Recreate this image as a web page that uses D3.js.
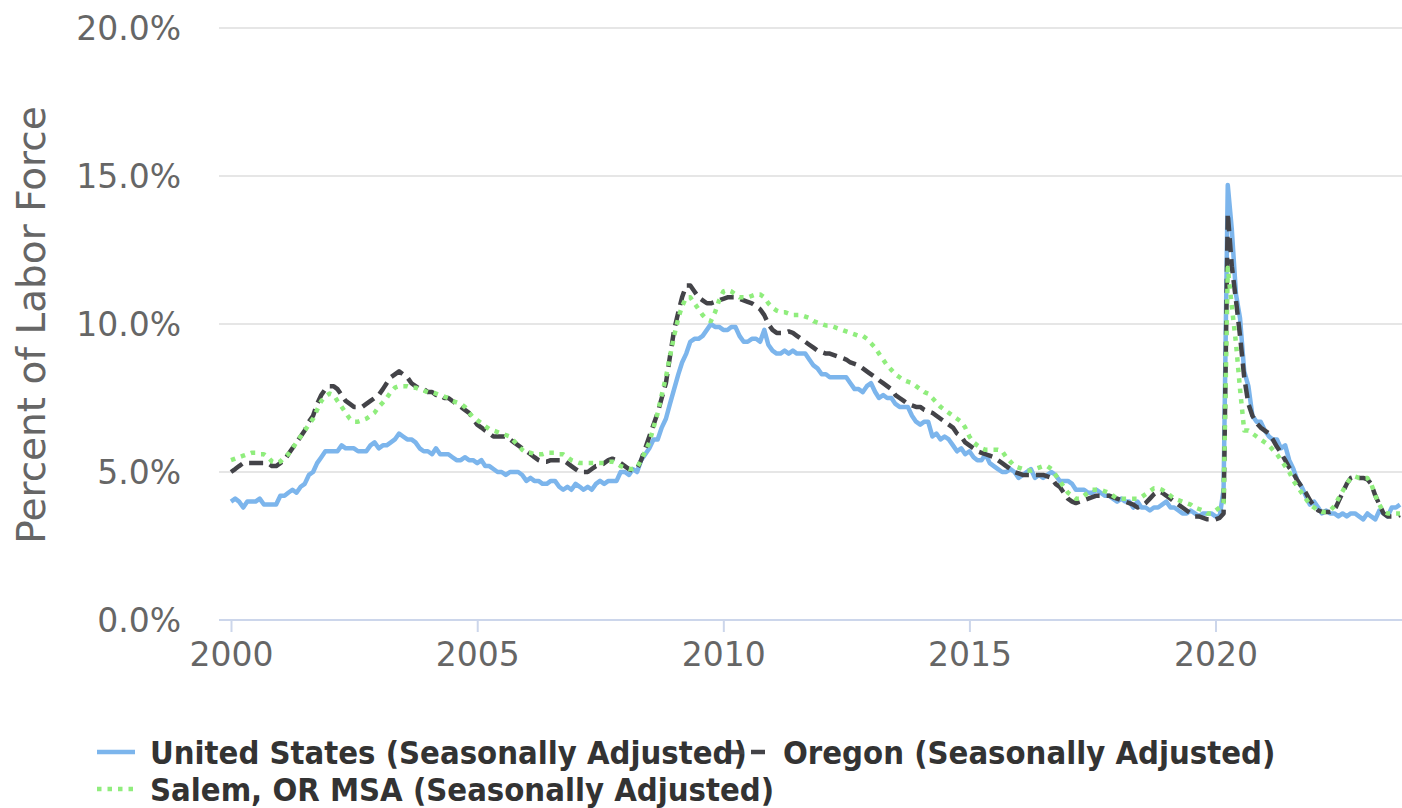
<!DOCTYPE html>
<html>
<head>
<meta charset="utf-8">
<script src="https://cdn.jsdelivr.net/npm/d3@7"></script>
<style>
  body { margin: 0; background: #fff; }
  svg { display: block; font-family: "DejaVu Sans", sans-serif; }
</style>
</head>
<body>
<div id="chart"></div>
<script>
var width = 1402;
var height = 808;

// monthly unemployment rates, Jan 2000 onwards (one row per year)
var usRate = [
    4.0, 4.1, 4.0, 3.8, 4.0, 4.0, 4.0, 4.1, 3.9, 3.9, 3.9, 3.9,
    4.2, 4.2, 4.3, 4.4, 4.3, 4.5, 4.6, 4.9, 5.0, 5.3, 5.5, 5.7,
    5.7, 5.7, 5.7, 5.9, 5.8, 5.8, 5.8, 5.7, 5.7, 5.7, 5.9, 6.0,
    5.8, 5.9, 5.9, 6.0, 6.1, 6.3, 6.2, 6.1, 6.1, 6.0, 5.8, 5.7,
    5.7, 5.6, 5.8, 5.6, 5.6, 5.6, 5.5, 5.4, 5.4, 5.5, 5.4, 5.4,
    5.3, 5.4, 5.2, 5.2, 5.1, 5.0, 5.0, 4.9, 5.0, 5.0, 5.0, 4.9,
    4.7, 4.8, 4.7, 4.7, 4.6, 4.6, 4.7, 4.7, 4.5, 4.4, 4.5, 4.4,
    4.6, 4.5, 4.4, 4.5, 4.4, 4.6, 4.7, 4.6, 4.7, 4.7, 4.7, 5.0,
    5.0, 4.9, 5.1, 5.0, 5.4, 5.6, 5.8, 6.1, 6.1, 6.5, 6.8, 7.3,
    7.8, 8.3, 8.7, 9.0, 9.4, 9.5, 9.5, 9.6, 9.8, 10.0, 9.9, 9.9,
    9.8, 9.8, 9.9, 9.9, 9.6, 9.4, 9.4, 9.5, 9.5, 9.4, 9.8, 9.3,
    9.1, 9.0, 9.0, 9.1, 9.0, 9.1, 9.0, 9.0, 9.0, 8.8, 8.6, 8.5,
    8.3, 8.3, 8.2, 8.2, 8.2, 8.2, 8.2, 8.0, 7.8, 7.8, 7.7, 7.9,
    8.0, 7.7, 7.5, 7.6, 7.5, 7.5, 7.3, 7.2, 7.2, 7.2, 6.9, 6.7,
    6.6, 6.7, 6.7, 6.2, 6.3, 6.1, 6.2, 6.1, 5.9, 5.7, 5.8, 5.6,
    5.7, 5.5, 5.4, 5.4, 5.6, 5.3, 5.2, 5.1, 5.0, 5.0, 5.1, 5.0,
    4.8, 4.9, 5.0, 5.1, 4.8, 4.9, 4.8, 4.9, 5.0, 4.9, 4.7, 4.7,
    4.7, 4.6, 4.4, 4.4, 4.4, 4.3, 4.3, 4.4, 4.3, 4.2, 4.2, 4.1,
    4.0, 4.1, 4.0, 4.0, 3.8, 4.0, 3.8, 3.8, 3.7, 3.8, 3.8, 3.9,
    4.0, 3.8, 3.8, 3.7, 3.6, 3.6, 3.7, 3.6, 3.5, 3.6, 3.6, 3.6,
    3.5, 3.5, 4.4, 14.7, 13.2, 11.0, 10.2, 8.4, 7.9, 6.9, 6.7, 6.7,
    6.4, 6.2, 6.1, 6.1, 5.8, 5.9, 5.4, 5.1, 4.7, 4.5, 4.2, 3.9,
    4.0, 3.8, 3.6, 3.7, 3.6, 3.6, 3.5, 3.6, 3.5, 3.6, 3.6, 3.5,
    3.4, 3.6, 3.5, 3.4, 3.7, 3.6, 3.5, 3.8, 3.8, 3.9
];

var oregonRate = [
    5.0, 5.1, 5.2, 5.3, 5.3, 5.3, 5.3, 5.3, 5.3, 5.3, 5.2, 5.2,
    5.3, 5.4, 5.6, 5.8, 6.0, 6.2, 6.4, 6.7, 6.9, 7.3, 7.6, 7.8,
    7.9, 7.9, 7.8, 7.6, 7.4, 7.3, 7.2, 7.2, 7.2, 7.3, 7.4, 7.5,
    7.6, 7.8, 8.0, 8.2, 8.3, 8.4, 8.3, 8.2, 8.0, 7.9, 7.8, 7.8,
    7.7, 7.7, 7.6, 7.6, 7.5, 7.5, 7.4, 7.3, 7.2, 7.1, 7.0, 6.8,
    6.6, 6.5, 6.4, 6.3, 6.2, 6.2, 6.2, 6.2, 6.1, 6.0, 5.9, 5.8,
    5.7, 5.6, 5.5, 5.4, 5.35, 5.35, 5.4, 5.4, 5.4, 5.4, 5.3, 5.2,
    5.1, 5.0, 5.0, 5.0, 5.1, 5.2, 5.2, 5.3, 5.4, 5.45, 5.4, 5.3,
    5.2, 5.1, 5.05, 5.1, 5.4, 5.8, 6.2, 6.6, 7.0, 7.5, 8.0, 8.9,
    9.8, 10.4, 10.9, 11.3, 11.3, 11.1, 10.9, 10.8, 10.7, 10.7, 10.75, 10.8,
    10.85, 10.9, 10.9, 10.9, 10.85, 10.8, 10.75, 10.7, 10.6, 10.5, 10.3, 10.0,
    9.8, 9.7, 9.7, 9.7, 9.75, 9.7, 9.6, 9.5, 9.4, 9.3, 9.2, 9.1,
    9.05, 9.0, 9.0, 8.95, 8.9, 8.85, 8.8, 8.7, 8.65, 8.6, 8.5, 8.4,
    8.3, 8.2, 8.1, 8.0, 7.9, 7.8, 7.6, 7.5, 7.4, 7.3, 7.25, 7.2,
    7.2, 7.1, 7.05, 7.0, 6.9, 6.8, 6.7, 6.6, 6.5, 6.3, 6.2, 6.0,
    5.9, 5.8, 5.7, 5.65, 5.6, 5.55, 5.5, 5.4, 5.3, 5.2, 5.1, 5.0,
    4.95, 4.9, 4.9, 4.9, 4.9, 4.9, 4.9, 4.85, 4.8, 4.6, 4.5, 4.3,
    4.1, 4.0, 3.95, 4.0, 4.05, 4.1, 4.15, 4.2, 4.2, 4.2, 4.2, 4.15,
    4.1, 4.05, 4.0, 3.95, 3.9, 3.8, 3.85, 3.95, 4.1, 4.25, 4.35, 4.3,
    4.2, 4.1, 4.0, 3.9, 3.8, 3.7, 3.6, 3.5, 3.5, 3.45, 3.4, 3.4,
    3.4, 3.45, 3.6, 13.75, 11.95, 10.8, 9.6, 8.2, 7.3, 6.9, 6.65, 6.5,
    6.4, 6.3, 6.1, 5.85, 5.65, 5.4, 5.15, 4.95, 4.7, 4.5, 4.3, 4.05,
    3.85, 3.7, 3.65, 3.65, 3.65, 3.7, 4.0, 4.3, 4.6, 4.8, 4.85, 4.8,
    4.8, 4.75, 4.6, 4.2, 3.9, 3.6, 3.5, 3.5, 3.5, 3.55
];

var salemRate = [
    5.4, 5.45, 5.5, 5.55, 5.6, 5.65, 5.65, 5.6, 5.6, 5.5, 5.35, 5.3,
    5.35, 5.5, 5.6, 5.8, 6.0, 6.2, 6.4, 6.6, 6.8, 7.1, 7.4, 7.55,
    7.65, 7.6, 7.4, 7.2, 7.0, 6.8, 6.7, 6.7, 6.75, 6.8, 6.9, 7.0,
    7.2, 7.35, 7.5, 7.7, 7.85, 7.9, 7.9, 7.9, 7.85, 7.85, 7.8, 7.75,
    7.7, 7.7, 7.65, 7.6, 7.55, 7.5, 7.4, 7.35, 7.3, 7.2, 7.0, 6.85,
    6.75, 6.65, 6.55, 6.45, 6.4, 6.35, 6.3, 6.25, 6.2, 6.05, 5.9, 5.75,
    5.65, 5.65, 5.6, 5.6, 5.6, 5.65, 5.65, 5.65, 5.6, 5.6, 5.5, 5.4,
    5.35, 5.3, 5.3, 5.3, 5.3, 5.3, 5.3, 5.3, 5.35, 5.35, 5.3, 5.2,
    5.15, 5.1, 5.1, 5.15, 5.4, 5.7, 6.0, 6.5, 7.0, 7.6, 8.2, 8.9,
    9.6, 10.2, 10.6, 10.9, 10.9, 10.7, 10.5, 10.3, 10.15, 10.1, 10.4, 10.8,
    11.1, 11.15, 11.1, 11.0, 10.9, 10.9, 10.9, 10.95, 11.0, 11.0, 10.9, 10.7,
    10.55, 10.45, 10.4, 10.4, 10.35, 10.3, 10.3, 10.3, 10.25, 10.2, 10.1, 10.05,
    10.0, 9.95, 9.95, 9.9, 9.85, 9.8, 9.75, 9.7, 9.65, 9.6, 9.6, 9.5,
    9.35, 9.2, 9.0, 8.8, 8.6, 8.45, 8.3, 8.2, 8.1, 8.05, 8.0, 7.9,
    7.8, 7.7, 7.65, 7.5, 7.35, 7.2, 7.1, 7.0, 6.9, 6.8, 6.7, 6.5,
    6.2, 6.0, 5.9, 5.8, 5.75, 5.75, 5.75, 5.75, 5.7, 5.5, 5.35, 5.2,
    5.15, 5.1, 5.05, 5.05, 5.1, 5.15, 5.2, 5.2, 5.1, 4.9, 4.7, 4.5,
    4.3, 4.2, 4.1, 4.1, 4.2, 4.3, 4.4, 4.4, 4.4, 4.35, 4.3, 4.2,
    4.1, 4.1, 4.1, 4.1, 4.1, 4.1, 4.15, 4.25, 4.35, 4.45, 4.45, 4.4,
    4.3, 4.2, 4.1, 4.05, 4.0, 3.95, 3.9, 3.8, 3.75, 3.7, 3.6, 3.6,
    3.7, 3.8, 3.95, 11.9, 10.6, 9.35, 7.8, 6.4, 6.4, 6.3, 6.2, 6.1,
    6.0, 5.9, 5.75, 5.6, 5.4, 5.2, 5.0, 4.7, 4.5, 4.3, 4.1, 3.9,
    3.8, 3.7, 3.65, 3.65, 3.7, 3.85, 4.1, 4.35, 4.6, 4.8, 4.85, 4.8,
    4.8, 4.8, 4.6, 4.2, 3.9, 3.65, 3.6, 3.6, 3.6, 3.6
];

var seriesNames = [
    "United States (Seasonally Adjusted)",
    "Oregon (Seasonally Adjusted)",
    "Salem, OR MSA (Seasonally Adjusted)"
];
var yTicks = [0, 5, 10, 15, 20];
var xTickYears = [2000, 2005, 2010, 2015, 2020];

var months = d3.range(usRate.length).map(function(i) { return new Date(2000, i, 1); });

var series = [
    { name: seriesNames[0], values: usRate, color: "#7cb5ec", dash: null },
    { name: seriesNames[1], values: oregonRate, color: "#434348", dash: "14,7" },
    { name: seriesNames[2], values: salemRate, color: "#90ed7d", dash: "4.5,6" }
];

var axisFont = "'DejaVu Sans', sans-serif";
var plotLeft = 219, plotRight = 1402;
var x = d3.scaleTime()
    .domain([months[0], months[months.length - 1]])
    .range([231, 1400]);
var y = d3.scaleLinear()
    .domain([0, 20])
    .range([620, 28]);

var svg = d3.select("#chart").append("svg")
    .attr("width", width)
    .attr("height", height);

// grid lines
svg.append("g")
    .selectAll("line")
    .data(yTicks.filter(function(d) { return d > 0; }))
    .enter().append("line")
    .attr("x1", plotLeft)
    .attr("x2", plotRight)
    .attr("y1", function(d) { return y(d); })
    .attr("y2", function(d) { return y(d); })
    .attr("stroke", "#e6e6e6")
    .attr("stroke-width", 2);

// y axis labels
var yAxis = d3.axisLeft(y)
    .tickValues(yTicks)
    .tickSize(0)
    .tickPadding(0)
    .tickFormat(function(d) { return d.toFixed(1) + "%"; });

var yg = svg.append("g")
    .attr("transform", "translate(181,0)")
    .call(yAxis)
    .attr("font-family", null)
    .attr("font-size", null);
yg.select(".domain").remove();
yg.selectAll("text")
    .attr("fill", "#666666")
    .style("font-family", axisFont)
    .style("font-size", "33px")
    .attr("dy", "0.36em");

// x axis
var xAxis = d3.axisBottom(x)
    .tickValues(xTickYears.map(function(d) { return new Date(d, 0, 1); }))
    .tickSize(12)
    .tickPadding(6)
    .tickFormat(d3.timeFormat("%Y"));

var xg = svg.append("g")
    .attr("transform", "translate(0," + y(0) + ")")
    .call(xAxis)
    .attr("font-family", null)
    .attr("font-size", null);
xg.select(".domain").remove();
xg.append("line")
    .attr("x1", plotLeft)
    .attr("x2", plotRight)
    .attr("stroke", "#ccd6eb")
    .attr("stroke-width", 2);
xg.selectAll(".tick line")
    .attr("stroke", "#ccd6eb")
    .attr("stroke-width", 2);
xg.selectAll(".tick text")
    .attr("fill", "#666666")
    .style("font-family", axisFont)
    .style("font-size", "33px")
    .attr("dy", "0.85em");

// axis title
svg.append("text")
    .attr("transform", "translate(45,325) rotate(-90)")
    .attr("text-anchor", "middle")
    .attr("fill", "#666666")
    .style("font-family", axisFont)
    .style("font-size", "39px")
    .text("Percent of Labor Force");

// lines
var line = d3.line()
    .x(function(d, i) { return x(months[i]); })
    .y(function(d) { return y(d); });

svg.append("defs").append("clipPath")
    .attr("id", "plot-clip")
    .append("rect")
    .attr("x", plotLeft)
    .attr("y", 0)
    .attr("width", plotRight - plotLeft)
    .attr("height", y(0));

svg.append("g")
    .attr("clip-path", "url(#plot-clip)")
    .selectAll("path")
    .data(series)
    .enter().append("path")
    .attr("d", function(d) { return line(d.values); })
    .attr("fill", "none")
    .attr("stroke", function(d) { return d.color; })
    .attr("stroke-width", 4.5)
    .attr("stroke-linejoin", "round")
    .attr("stroke-dasharray", function(d) { return d.dash; });

// legend
var legendItems = [
    { s: series[0], x: 97, y: 752 },
    { s: series[1], x: 730, y: 752 },
    { s: series[2], x: 97, y: 789 }
];

var legend = svg.append("g").attr("class", "legend");
var item = legend.selectAll("g")
    .data(legendItems)
    .enter().append("g")
    .attr("transform", function(d) { return "translate(" + d.x + "," + d.y + ")"; });

item.append("line")
    .attr("x1", 0)
    .attr("x2", 38)
    .attr("stroke", function(d) { return d.s.color; })
    .attr("stroke-width", 4.5)
    .attr("stroke-dasharray", function(d) { return d.s.dash; });

item.append("text")
    .attr("x", 53)
    .attr("dy", "0.36em")
    .attr("fill", "#333333")
    .style("font-family", "'DejaVu Sans Condensed', 'DejaVu Sans', sans-serif")
    .style("font-stretch", "condensed")
    .style("font-weight", "bold")
    .style("font-size", "32.5px")
    .text(function(d) { return d.s.name; });
</script>
</body>
</html>
